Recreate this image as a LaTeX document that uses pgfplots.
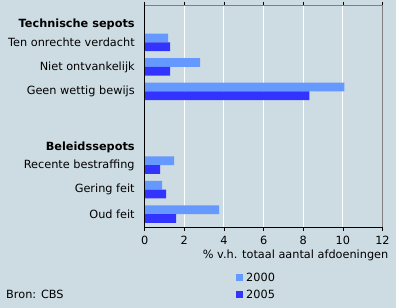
\documentclass[border=0pt]{standalone}
\usepackage{pgfplots}
\pgfplotsset{compat=1.18}
\usepackage{fontspec}
\setmainfont{DejaVu Sans}
\definecolor{bg}{RGB}{205,220,226}
\definecolor{cA}{RGB}{102,153,255}
\definecolor{cB}{RGB}{51,51,255}
\newcommand{\fs}{\fontsize{11.3bp}{13bp}\selectfont}
\begin{document}
\begin{tikzpicture}
\fill[bg] (0,0) rectangle (396bp,308bp);
\begin{axis}[
  at={(144.7bp,80.3bp)}, anchor=south west,
  scale only axis, width=237.8bp, height=222.4bp,
  y dir=reverse,
  xmin=0, xmax=12, ymin=-0.51, ymax=8.55,
  xtick={0,2,...,12},
  xmajorgrids, grid style={white, line width=1pt},
  xtick align=outside, major tick length=3.5bp,
  tick style={black, line width=0.6pt},
  ytick={0.28,1,2,3,5.28,6,7,8},
  yticklabels={\textbf{Technische sepots},Ten onrechte verdacht,Niet ontvankelijk,Geen wettig bewijs,\textbf{Beleidssepots},Recente bestraffing,Gering feit,Oud feit},
  ymajorticks=true, ytick style={draw=none},
  yticklabel style={font=\fs, xshift=-3bp},
  xticklabel style={font=\fs, yshift=-1.5bp},
  /pgf/number format/assume math mode=true,
  axis line style={draw=gray, line width=1pt},
  axis background/.style={fill=bg},
  xbar, bar width=0.355,
  clip=false,
]
\addplot[draw=none, fill=cA, bar shift=-0.1775] coordinates {(1.18,1) (2.8,2) (10.08,3) (1.48,6) (0.88,7) (3.75,8)};
\addplot[draw=none, fill=cB, bar shift=0.1775] coordinates {(1.28,1) (1.28,2) (8.31,3) (0.78,6) (1.08,7) (1.58,8)};
\draw[black, line width=1pt] (rel axis cs:0,1) -- (rel axis cs:0,0) -- (rel axis cs:1,0);
\node[anchor=north east, font=\fs, inner sep=0pt] at ([xshift=6bp,yshift=-22.5bp]rel axis cs:1,0) {\% v.h. totaal aantal afdoeningen};
\end{axis}
\fill[cA] (236bp,27bp) rectangle (243bp,34bp);
\node[anchor=west, font=\fs, inner sep=0pt] at (246bp,30.5bp) {2000};
\fill[cB] (236bp,10bp) rectangle (243bp,17bp);
\node[anchor=west, font=\fs, inner sep=0pt] at (246bp,13.5bp) {2005};
\node[anchor=west, font=\fs, inner sep=0pt] at (6bp,13.5bp) {Bron: CBS};
\end{tikzpicture}
\end{document}
